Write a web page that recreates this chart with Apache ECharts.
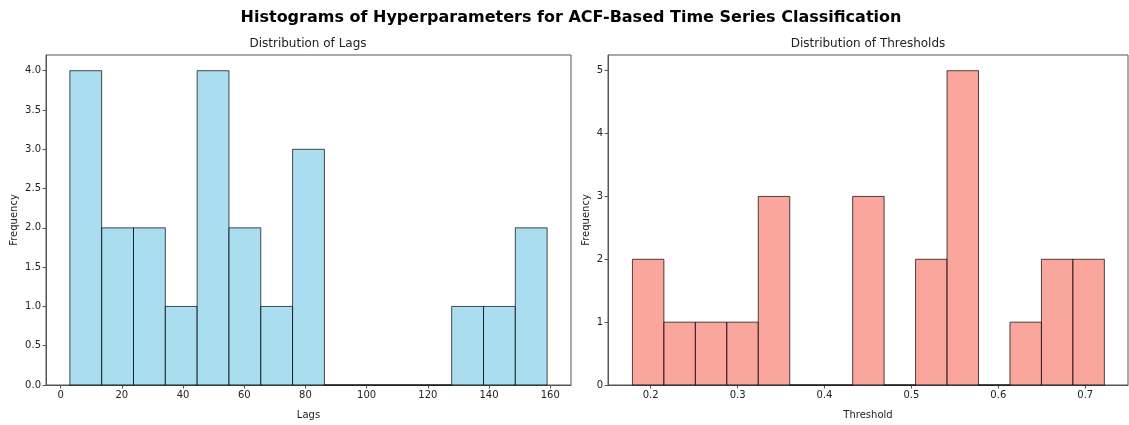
<!DOCTYPE html>
<html>
<head>
<meta charset="utf-8">
<script src="https://cdn.jsdelivr.net/npm/echarts@6/dist/echarts.min.js"></script>
<style>
html,body{margin:0;padding:0;background:#fff;}
#chart{width:1129px;height:425px;}
</style>
</head>
<body>
<div id="chart"></div>
<script>
// ---- Data ----
const lagEdges = [3, 13.4, 23.8, 34.2, 44.6, 55, 65.4, 75.8, 86.2, 96.6, 107, 117.4, 127.8, 138.2, 148.6, 159];
const lagCounts = [4, 2, 2, 1, 4, 2, 1, 3, 0, 0, 0, 0, 1, 1, 2];
const thrEdges = [0.179, 0.2152, 0.2514, 0.2876, 0.3238, 0.36, 0.3962, 0.4324, 0.4686, 0.5048, 0.541, 0.5772, 0.6134, 0.6496, 0.6858, 0.722];
const thrCounts = [2, 1, 1, 1, 3, 0, 0, 3, 0, 2, 5, 0, 1, 2, 2];
const lagXTicks = [0, 20, 40, 60, 80, 100, 120, 140, 160];
const lagYTicks = [0, 0.5, 1, 1.5, 2, 2.5, 3, 3.5, 4];
const thrXTicks = [0.2, 0.3, 0.4, 0.5, 0.6, 0.7];
const thrYTicks = [0, 1, 2, 3, 4, 5];

function binData(edges, counts) {
  return counts.map((c, i) => [edges[i], edges[i + 1], c]);
}

function renderHist(fill) {
  return function (params, api) {
    const x0 = api.value(0), x1 = api.value(1), y = api.value(2);
    const p0 = api.coord([x0, 0]);
    const p1 = api.coord([x1, y]);
    return {
      type: 'rect',
      shape: { x: p0[0], y: p1[1], width: p1[0] - p0[0], height: p0[1] - p1[1] },
      style: { fill: fill, stroke: 'rgba(0,0,0,0.7)', lineWidth: 1 }
    };
  };
}

const FONT = 'DejaVu Sans';
const txt = '#222';
const frame = '#555';

function xAxisCfg(gi, min, max, ticks, name, fmt) {
  return {
    type: 'value', gridIndex: gi, min: min, max: max,
    name: name, nameLocation: 'middle', nameGap: 25,
    nameTextStyle: { fontFamily: FONT, fontSize: 10, color: txt },
    axisLine: { show: true, onZero: false, lineStyle: { color: frame, width: 1 } },
    axisTick: { show: true, length: 3.5, lineStyle: { color: frame }, customValues: ticks },
    axisLabel: { fontFamily: FONT, fontSize: 10, color: txt, margin: 5, customValues: ticks, formatter: fmt },
    splitLine: { show: false }
  };
}
function yAxisCfg(gi, min, max, ticks, fmt) {
  return {
    type: 'value', gridIndex: gi, min: min, max: max,
    name: 'Frequency', nameLocation: 'middle', nameGap: gi === 0 ? 27 : 17,
    nameTextStyle: { fontFamily: FONT, fontSize: 10, color: txt },
    axisLine: { show: true, onZero: false, lineStyle: { color: frame, width: 1 } },
    axisTick: { show: true, length: 3.5, lineStyle: { color: frame }, customValues: ticks },
    axisLabel: { fontFamily: FONT, fontSize: 10, color: txt, margin: 5, customValues: ticks, formatter: fmt },
    splitLine: { show: false }
  };
}

const chart = echarts.init(document.getElementById('chart'), null, { renderer: 'canvas' });
chart.setOption({
  backgroundColor: '#fff',
  animation: false,
  title: [
    { text: 'Histograms of Hyperparameters for ACF-Based Time Series Classification', left: 571, top: 10, textAlign: 'center', padding: 0,
      textStyle: { fontFamily: FONT, fontSize: 16, fontWeight: 'bold', color: '#000' } },
    { text: 'Distribution of Lags', left: 308, top: 38, textAlign: 'center', padding: 0,
      textStyle: { fontFamily: FONT, fontSize: 12, fontWeight: 'normal', color: txt } },
    { text: 'Distribution of Thresholds', left: 868, top: 38, textAlign: 'center', padding: 0,
      textStyle: { fontFamily: FONT, fontSize: 12, fontWeight: 'normal', color: txt } }
  ],
  grid: [
    { left: 46, top: 55, width: 525, height: 337, show: true, borderColor: frame, borderWidth: 1, backgroundColor: 'transparent' },
    { left: 608, top: 55, width: 520, height: 337, show: true, borderColor: frame, borderWidth: 1, backgroundColor: 'transparent' }
  ],
  xAxis: [
    xAxisCfg(0, -4.8, 166.8, lagXTicks, 'Lags', v => String(Math.round(v))),
    xAxisCfg(1, 0.1509, 0.7492, thrXTicks, 'Threshold', v => v.toFixed(1))
  ],
  yAxis: [
    yAxisCfg(0, 0, 4.2, lagYTicks, v => v.toFixed(1)),
    yAxisCfg(1, 0, 5.25, thrYTicks, v => String(Math.round(v)))
  ],
  series: [
    { type: 'custom', xAxisIndex: 0, yAxisIndex: 0, renderItem: renderHist('rgba(135,206,235,0.7)'),
      encode: { x: [0, 1], y: 2 }, data: binData(lagEdges, lagCounts) },
    { type: 'custom', xAxisIndex: 1, yAxisIndex: 1, renderItem: renderHist('rgba(250,128,114,0.7)'),
      encode: { x: [0, 1], y: 2 }, data: binData(thrEdges, thrCounts) }
  ]
});
</script>
</body>
</html>
